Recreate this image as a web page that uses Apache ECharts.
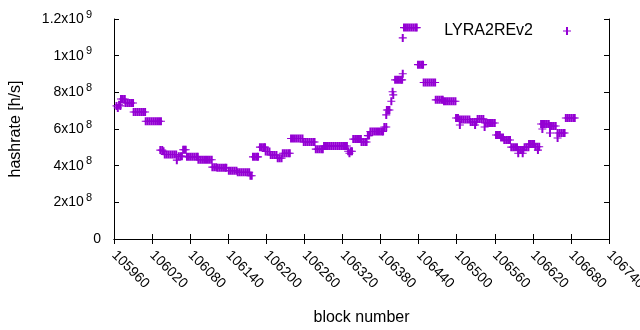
<!DOCTYPE html>
<html><head><meta charset="utf-8">
<script src="https://cdn.jsdelivr.net/npm/echarts@6/dist/echarts.min.js"></script>
<style>html,body{margin:0;padding:0;background:#fff}#c{width:640px;height:330px}</style>
</head><body><div id="c"></div>
<script>
const seriesName = 'LYRA2REv2';
const xTitle = 'block number';
const yTitle = 'hashrate [h/s]';
const xMin = 105960, xMax = 106740, xStep = 60;
const yMin = 0, yMax = 1.2e9, yStep = 2e8;
// [block number, hashrate in MH/s]
const hashratePoints = [
[105964,726],[105966,715],[105968,732],[105970,726],
[105971,764],[105974,764],[105977,764],
[105978,742],[105981,742],[105984,742],[105987,742],[105990,742],
[105991,693],[105994,693],[105997,693],[106000,693],[106003,693],[106006,693],[106009,693],
[106010,642],[106013,642],[106016,642],[106019,642],[106022,642],[106025,642],[106028,642],[106031,642],[106034,642],
[106033,485],[106036,485],[106038,479],
[106040,461],[106043,461],[106046,461],[106049,461],[106052,461],[106055,461],[106058,461],
[106059,430],
[106062,452],[106065,452],[106067,452],
[106069,487],[106071,487],[106073,487],
[106075,448],[106078,448],[106081,448],[106084,448],[106087,448],[106090,448],[106092,448],
[106093,432],[106096,432],[106099,432],[106102,432],[106105,432],[106108,432],[106111,432],[106114,432],
[106115,392],[106118,392],[106121,392],
[106123,388],[106126,388],[106129,388],[106132,388],[106135,388],[106137,388],
[106141,372],[106144,372],[106147,372],[106150,372],[106153,372],
[106155,364],[106158,364],[106161,364],[106164,364],[106167,364],[106170,364],[106173,364],
[106175,345],[106177,345],
[106179,448],[106182,448],[106185,448],[106187,448],
[106190,501],[106193,501],[106196,501],[106198,501],
[106199,477],[106202,477],[106205,477],
[106207,458],[106210,458],[106213,458],[106216,458],
[106218,441],[106221,441],[106224,441],
[106226,468],[106229,468],[106232,468],[106235,468],[106237,468],
[106239,548],[106242,548],[106245,548],[106248,548],[106251,548],[106254,548],[106257,548],
[106259,529],[106262,529],[106265,529],[106268,529],[106271,529],[106274,529],[106276,529],
[106278,490],[106281,490],[106284,490],[106287,490],[106289,490],
[106291,507],[106294,507],[106297,507],[106300,507],[106303,507],[106306,507],[106309,507],[106312,507],[106315,507],[106318,507],[106321,507],[106324,507],[106327,507],
[106329,479],[106331,468],[106333,479],[106335,479],
[106337,545],[106340,545],[106343,545],[106346,545],[106349,545],
[106350,529],[106353,529],[106356,529],[106358,529],
[106360,564],[106362,564],
[106364,586],[106367,586],[106370,586],[106373,586],[106376,586],[106379,586],[106382,586],[106384,586],
[106386,611],[106389,611],
[106389,677],[106390,704],[106392,704],[106394,704],
[106397,751],
[106399,803],[106400,786],
[106403,868],[106406,868],[106409,868],[106412,868],[106414,868],
[106415,901],[106415,1097],
[106417,1153],[106420,1153],[106423,1153],[106426,1153],[106429,1153],[106432,1153],[106435,1153],[106437,1153],
[106439,951],[106442,951],[106445,951],[106447,951],
[106448,854],[106451,854],[106454,854],[106457,854],[106460,854],[106463,854],[106466,854],
[106467,759],[106470,759],[106473,759],[106476,759],[106478,759],
[106480,751],[106483,751],[106486,751],[106489,751],[106492,751],[106495,751],[106498,751],
[106499,660],[106502,660],
[106505,652],[106505,622],[106508,652],[106511,652],[106514,652],[106517,652],[106520,652],
[106522,638],[106525,638],[106528,638],[106529,622],[106531,638],
[106533,655],[106536,655],[106539,655],[106542,655],
[106544,611],
[106545,633],[106548,633],[106551,633],[106554,633],[106557,633],[106560,633],
[106562,567],[106565,567],[106568,567],
[106570,553],[106573,553],
[106575,540],[106578,540],[106581,540],[106584,540],
[106586,501],[106589,501],[106592,501],[106595,501],
[106597,485],[106597,468],[106600,485],[106603,485],[106604,468],[106605,485],
[106607,501],[106610,501],[106613,501],
[106614,518],[106617,518],[106620,518],[106622,518],
[106624,503],[106627,503],[106628,485],[106630,503],
[106633,627],[106635,600],[106636,627],[106639,627],[106642,627],[106645,627],
[106647,616],[106647,578],[106650,616],[106653,616],[106656,616],
[106659,578],[106659,551],[106662,578],[106665,578],[106668,578],[106670,578],
[106672,660],[106675,660],[106678,660],[106681,660],[106684,660],[106686,660]
];

const FONT = 'Liberation Sans';
const COLOR = '#9400D3';
// gnuplot-style "+" point (vertical stroke slightly wider so neighbouring points merge like the original)
const CROSS = 'path://M3,0H5V3.45H8V4.55H5V8H3V4.55H0V3.45H3Z';

function yLabel(v) {
  if (v === 0) return '';
  const e = Math.floor(Math.log10(v) + 1e-9);
  const m = +(v / Math.pow(10, e)).toFixed(1);
  return '{m|' + m + 'x10}{s|' + e + '}';
}

const axisLine = { show: true, lineStyle: { color: '#000', width: 1 } };
const tick = { show: true, inside: true, length: 5, lineStyle: { color: '#000', width: 1 } };

const chart = echarts.init(document.getElementById('c'), null, { renderer: 'canvas' });
chart.setOption({
  animation: false,
  backgroundColor: '#fff',
  textStyle: { fontFamily: FONT },
  grid: { left: 114, right: 31, top: 19, bottom: 91, outerBoundsMode: 'none', containLabel: false },
  legend: {
    data: [seriesName], align: 'right', right: 69, top: 23, padding: 0,
    itemWidth: 8, itemHeight: 8,
    textStyle: { fontFamily: FONT, fontSize: 16, color: '#000', padding: [0, 25, 0, 0] }
  },
  xAxis: [{
    type: 'value', position: 'bottom', min: xMin, max: xMax, interval: xStep,
    axisLine, axisTick: tick, splitLine: { show: false },
    axisLabel: { rotate: -45, fontSize: 14, color: '#000', fontFamily: FONT, margin: 14,
      formatter: v => String(v), showMinLabel: true, showMaxLabel: true, hideOverlap: false },
    name: xTitle, nameLocation: 'middle', nameGap: 71,
    nameTextStyle: { fontSize: 16, color: '#000', fontFamily: FONT }
  }, {
    type: 'value', position: 'top', min: xMin, max: xMax, interval: xStep,
    axisLine, axisTick: tick, splitLine: { show: false }, axisLabel: { show: false }
  }],
  yAxis: [{
    type: 'value', position: 'left', min: yMin, max: yMax, interval: yStep,
    axisLine, axisTick: tick, splitLine: { show: false },
    axisLabel: { fontSize: 14, color: '#000', fontFamily: FONT, margin: 22, formatter: yLabel,
      rich: { m: { fontSize: 14, color: '#000', fontFamily: FONT },
              s: { fontSize: 11, color: '#000', fontFamily: FONT, padding: [0, 0, 9, 2] } } },
    name: yTitle, nameLocation: 'middle', nameGap: 90, nameRotate: 90,
    nameTextStyle: { fontSize: 16, color: '#000', fontFamily: FONT }
  }, {
    type: 'value', position: 'right', min: yMin, max: yMax, interval: yStep,
    axisLine, axisTick: tick, splitLine: { show: false }, axisLabel: { show: false }
  }, {
    type: 'value', position: 'left', min: yMin, max: yMax, interval: yStep,
    axisLine: { show: false }, axisTick: { show: false }, splitLine: { show: false },
    axisLabel: { fontSize: 14, color: '#000', fontFamily: FONT, margin: 13,
      formatter: v => (v === 0 ? '0' : '') }
  }],
  series: [{
    name: seriesName, type: 'scatter', xAxisIndex: 0, yAxisIndex: 0,
    symbol: CROSS, symbolSize: 8,
    itemStyle: { color: COLOR, opacity: 1 },
    emphasis: { disabled: true },
    data: hashratePoints.map(p => [p[0], p[1] * 1e6])
  }]
});
</script></body></html>
